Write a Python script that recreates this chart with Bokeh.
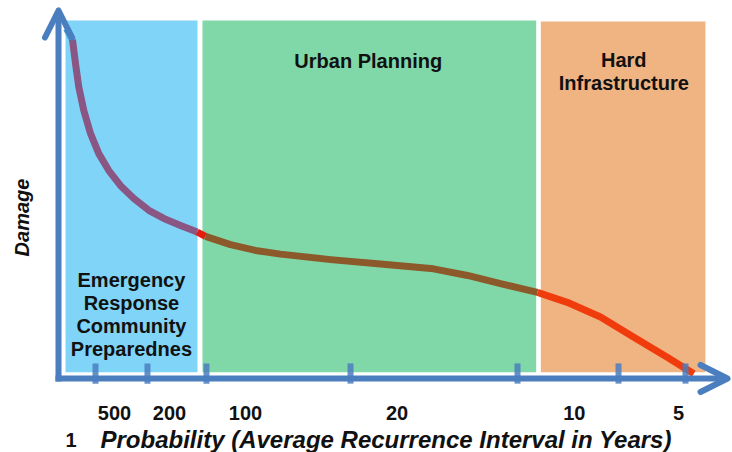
from bokeh.plotting import figure
from bokeh.models import Range1d, Arrow, OpenHead
from bokeh.core.properties import value
from bokeh.embed import file_html
from bokeh.resources import INLINE

# ---- data (conceptual units: position 0-100 along x, damage 0-100) ----
band_names = ["Emergency Response Community Preparednes", "Urban Planning", "Hard Infrastructure"]
band_left = [1.05, 21.52, 72.10]
band_right = [20.78, 71.40, 96.70]
band_bottom = [1.7, 1.7, 1.7]
band_top = [97.3, 97.3, 97.0]
band_colors = ["#80d4f7", "#80d8a8", "#f0b483"]

curve_x = [1.20, 2.09, 2.54, 3.03, 3.78, 4.78, 6.02, 7.52, 9.27, 11.26, 13.50, 15.74, 18.24, 20.73,
           21.97, 25.71, 29.45, 33.18, 40.66, 48.13, 56.05, 61.14, 66.07, 71.60,
           76.04, 81.02, 86.00, 90.99, 94.96]
curve_y = [95.1, 92.1, 85.6, 79.2, 72.8, 66.6, 61.1, 56.5, 52.4, 48.9, 45.7, 43.5, 41.6, 39.8,
           38.6, 36.4, 34.8, 33.8, 32.3, 31.1, 29.8, 28.0, 25.8, 23.4,
           20.7, 16.7, 11.2, 5.8, 1.3]
# (first index, last index, colour) of each coloured run of the curve
curve_runs = [(0, 1, "#3a96d8"), (1, 13, "#8a5684"), (13, 14, "#e61c10"),
              (14, 23, "#8c5a2a"), (23, 28, "#f03c0c")]

tick_pos = [5.53, 13.30, 22.12, 43.65, 68.61, 83.71, 93.72]
tick_labels = ["500", "200", "100", "20", "10", "5"]
tick_label_x = [8.37, 16.6, 27.95, 50.6, 77.1, 92.7]

label_lines = {
    "Emergency Response Community Preparednes": ["Emergency", "Response", "Community", "Preparednes"],
    "Urban Planning": ["Urban Planning"],
    "Hard Infrastructure": ["Hard", "Infrastructure"],
}
label_x = [10.9, 46.3, 84.5]
label_first_y = [24.5, 84.2, 84.5]
line_step = 6.25

AXIS = "#4a7ebf"
FONT = value("Liberation Sans")
YOFF = -8

p = figure(width=732, height=452, output_backend="svg", toolbar_location=None,
           x_range=Range1d(-8.670, 100.747), y_range=Range1d(-20.109, 102.717),
           x_axis_location=None, y_axis_location=None, min_border=0,
           background_fill_color="white", border_fill_color="white")
p.outline_line_color = None
p.grid.visible = False

# bands
p.quad(left=band_left, right=band_right, bottom=band_bottom, top=band_top,
       fill_color=band_colors, line_color=None)

# band labels
tx, ty, tt = [], [], []
for name, x0, y0 in zip(band_names, label_x, label_first_y):
    for k, line in enumerate(label_lines[name]):
        tx.append(x0); ty.append(y0 - k * line_step); tt.append(line)
p.text(x=tx, y=ty, text=tt, text_font=FONT, text_font_style="bold",
       text_font_size="20px", text_color="#111111", text_align="center",
       text_baseline="alphabetic", y_offset=YOFF)

# curve
for i0, i1, col in curve_runs:
    p.line(curve_x[i0:i1 + 1], curve_y[i0:i1 + 1], line_color=col, line_width=7,
           line_join="round", line_cap="butt")

# axes with arrows
p.add_layout(Arrow(end=OpenHead(size=27, line_width=6, line_color=AXIS, line_join="round", line_cap="round"),
                   x_start=0, y_start=-0.8, x_end=0, y_end=100,
                   line_color=AXIS, line_width=6))
p.add_layout(Arrow(end=OpenHead(size=27, line_width=6, line_color=AXIS, line_join="round", line_cap="round"),
                   x_start=-0.45, y_start=0, x_end=100, y_end=0,
                   line_color=AXIS, line_width=6))

# ticks
p.segment(x0=tick_pos, y0=[-1.4] * len(tick_pos), x1=tick_pos, y1=[4.1] * len(tick_pos),
          line_color=AXIS, line_width=6, line_alpha=0.85)

# tick labels
p.text(x=tick_label_x, y=[-11.6] * len(tick_labels), text=tick_labels, text_font=FONT,
       text_font_style="bold", text_font_size="20px", text_color="#111111",
       text_align="center", text_baseline="alphabetic", y_offset=YOFF)

# axis titles
p.text(x=[1.05], y=[-18.8], text=["1"], text_font=FONT, text_font_style="bold",
       text_font_size="20px", text_color="#111111", text_align="left",
       text_baseline="alphabetic", y_offset=YOFF)
p.text(x=[6.28], y=[-18.8], text=["Probability (Average Recurrence Interval in Years)"],
       text_font=FONT, text_font_style="bold italic", text_font_size="24px",
       text_color="#111111", text_align="left", text_baseline="alphabetic", y_offset=YOFF)
p.text(x=[-5.4], y=[43.75], text=["Damage"], angle=1.5708, text_font=FONT,
       text_font_style="bold italic", text_font_size="20px", text_color="#111111",
       text_align="center", text_baseline="middle")

open("out.html", "w").write(file_html(p, INLINE))
